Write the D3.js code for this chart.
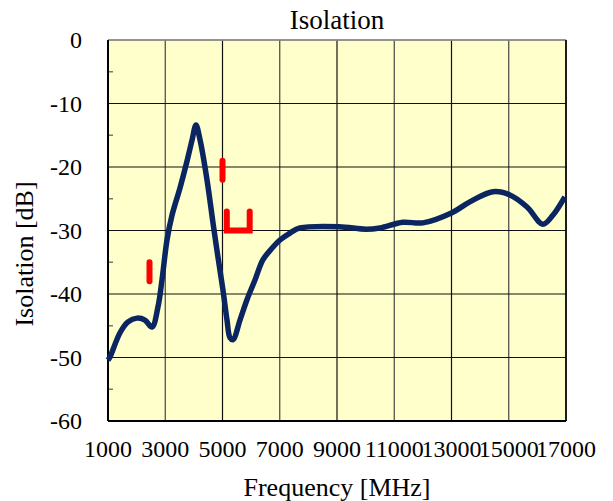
<!DOCTYPE html>
<html>
<head>
<meta charset="utf-8">
<script src="https://d3js.org/d3.v7.min.js"></script>
<style>
  body { margin: 0; background: #fff; }
</style>
</head>
<body>
<svg width="613" height="501"></svg>
<script>
var freq = [1000, 1070, 1420, 1700, 2013, 2290, 2537, 2747, 2886, 3061, 3236, 3515, 3759, 3934, 4074, 4214, 4458, 4668, 4842, 5017, 5157, 5262, 5366, 5611, 5855, 6135, 6414, 6728, 7008, 7357, 7706, 9070, 10010, 10500, 11300, 12000, 13015, 13640, 14450, 15040, 15640, 16190, 16540, 16960];
var isolation = [-50.4, -49.9, -46.1, -44.4, -43.8, -44.1, -45.2, -42.0, -37.8, -31.5, -27.6, -23.3, -19.1, -15.8, -13.4, -15.7, -22.0, -28.8, -34.2, -39.4, -44.1, -46.9, -47.2, -44.1, -40.9, -37.8, -34.6, -32.8, -31.5, -30.4, -29.6, -29.4, -29.8, -29.6, -28.7, -28.8, -27.2, -25.5, -23.9, -24.4, -26.3, -29.0, -27.6, -24.7];

// red spec marks
var markA = [[2450, -35], [2450, -38]];
var markB = [[5000, -19], [5000, -22]];
var markC = [[5150, -27], [5150, -30], [5950, -30], [5950, -27]];

var xTicks = [1000, 3000, 5000, 7000, 9000, 11000, 13000, 15000, 17000];
var yTicks = [0, -10, -20, -30, -40, -50, -60];
var yMinor = [-5, -15, -25, -35, -45, -55];

var serif = "'Liberation Serif', 'DejaVu Serif', serif";

var svg = d3.select("svg").attr("font-family", serif);
var margin = {top: 40, left: 108, right: 47, bottom: 80};
var plotWidth = 613 - margin.left - margin.right;
var plotHeight = 501 - margin.top - margin.bottom;

var x = d3.scaleLinear().domain([1000, 17000]).range([0, plotWidth]);
var y = d3.scaleLinear().domain([-60, 0]).range([plotHeight, 0]);

var plot = svg.append("g")
    .attr("id", "plot")
    .attr("transform", "translate(" + margin.left + "," + margin.top + ")");

plot.append("rect")
    .attr("width", plotWidth)
    .attr("height", plotHeight)
    .attr("fill", "#ffffcc");

// grid
plot.selectAll("line.vgrid")
    .data(xTicks)
    .enter().append("line")
    .attr("class", "vgrid")
    .attr("x1", function(d) { return x(d); })
    .attr("x2", function(d) { return x(d); })
    .attr("y1", 0)
    .attr("y2", plotHeight)
    .attr("stroke", function(d, i) { return i % 2 ? "#444" : "#111"; })
    .attr("stroke-width", 1.2);

plot.selectAll("line.hgrid")
    .data(yTicks)
    .enter().append("line")
    .attr("class", "hgrid")
    .attr("x1", 0)
    .attr("x2", plotWidth)
    .attr("y1", function(d) { return y(d); })
    .attr("y2", function(d) { return y(d); })
    .attr("stroke", "#111")
    .attr("stroke-width", 1.2);

plot.selectAll("line.minor")
    .data(yMinor)
    .enter().append("line")
    .attr("class", "minor")
    .attr("x1", 0)
    .attr("x2", 5)
    .attr("y1", function(d) { return y(d); })
    .attr("y2", function(d) { return y(d); })
    .attr("stroke", "#777")
    .attr("stroke-width", 1.5);

// frame
plot.append("line").attr("x1", 0).attr("x2", plotWidth).attr("y1", 0).attr("y2", 0)
    .attr("stroke", "#999").attr("stroke-width", 1.5);
plot.append("line").attr("x1", plotWidth).attr("x2", plotWidth).attr("y1", 0).attr("y2", plotHeight)
    .attr("stroke", "#000").attr("stroke-width", 1.5);
plot.append("line").attr("x1", 0).attr("x2", 0).attr("y1", 0).attr("y2", plotHeight)
    .attr("stroke", "#000").attr("stroke-width", 2);
plot.append("line").attr("x1", 0).attr("x2", plotWidth).attr("y1", plotHeight).attr("y2", plotHeight)
    .attr("stroke", "#000").attr("stroke-width", 2);

// tick labels
plot.selectAll("text.xlab")
    .data(xTicks)
    .enter().append("text")
    .attr("class", "xlab")
    .attr("x", function(d) { return x(d); })
    .attr("y", plotHeight + 36)
    .attr("text-anchor", "middle")
    .attr("font-family", serif)
    .style("font-size", "24px")
    .text(function(d) { return d; });

plot.selectAll("text.ylab")
    .data(yTicks)
    .enter().append("text")
    .attr("class", "ylab")
    .attr("x", -26)
    .attr("y", function(d) { return y(d) + 8; })
    .attr("text-anchor", "end")
    .attr("font-family", serif)
    .style("font-size", "24px")
    .text(function(d) { return d; });

// data line
var line = d3.line()
    .x(function(d) { return x(d[0]); })
    .y(function(d) { return y(d[1]); })
    .curve(d3.curveCatmullRom.alpha(0.5));

plot.append("path")
    .datum(d3.zip(freq, isolation))
    .attr("d", line)
    .attr("fill", "none")
    .attr("stroke", "#0b2560")
    .attr("stroke-width", 5.5)
    .attr("stroke-linejoin", "round");

var markLine = d3.line()
    .x(function(d) { return x(d[0]); })
    .y(function(d) { return y(d[1]); });

plot.selectAll("path.mark")
    .data([markA, markB, markC])
    .enter().append("path")
    .attr("class", "mark")
    .attr("d", markLine)
    .attr("fill", "none")
    .attr("stroke", "#ff0000")
    .attr("stroke-width", 6)
    .attr("stroke-linecap", "round");

// titles
svg.append("text")
    .attr("x", margin.left + plotWidth / 2)
    .attr("y", 29)
    .attr("text-anchor", "middle")
    .attr("font-family", serif)
    .style("font-size", "27px")
    .text("Isolation");

svg.append("text")
    .attr("x", margin.left + plotWidth / 2)
    .attr("y", 496)
    .attr("text-anchor", "middle")
    .attr("font-family", serif)
    .style("font-size", "26px")
    .text("Frequency [MHz]");

svg.append("text")
    .attr("transform", "translate(33,254) rotate(-90)")
    .attr("text-anchor", "middle")
    .attr("font-family", serif)
    .style("font-size", "26px")
    .text("Isolation [dB]");
</script>
</body>
</html>
